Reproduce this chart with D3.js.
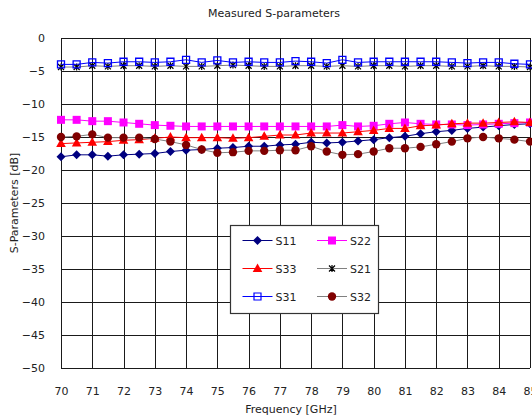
<!DOCTYPE html>
<html>
<head>
<meta charset="utf-8">
<script src="https://cdn.jsdelivr.net/npm/d3@7"></script>
<style>
  body { margin: 0; background: #fff; }
  svg text { font-family: "DejaVu Sans", sans-serif; fill: #222; }
</style>
</head>
<body>
<svg id="chart" width="532" height="418"></svg>
<script>
// Frequency points, 70 to 85 GHz in 0.5 GHz steps
const freqs = [70, 70.5, 71, 71.5, 72, 72.5, 73, 73.5, 74, 74.5, 75, 75.5, 76, 76.5, 77, 77.5,
  78, 78.5, 79, 79.5, 80, 80.5, 81, 81.5, 82, 82.5, 83, 83.5, 84, 84.5, 85];

const s11 = [-18.0, -17.7, -17.7, -17.9, -17.7, -17.6, -17.5, -17.2, -17.0, -16.9, -16.7, -16.6, -16.4, -16.4, -16.2, -16.1,
  -15.8, -15.9, -15.8, -15.6, -15.4, -15.1, -14.9, -14.5, -14.2, -14.0, -13.7, -13.5, -13.3, -13.1, -13.0];
const s22 = [-12.4, -12.4, -12.6, -12.6, -12.8, -13.0, -13.2, -13.3, -13.4, -13.4, -13.4, -13.4, -13.4, -13.4, -13.4, -13.4,
  -13.4, -13.4, -13.2, -13.4, -13.3, -13.0, -12.8, -13.0, -13.1, -13.1, -13.2, -13.1, -13.0, -12.9, -12.8];
const s33 = [-16.0, -15.9, -15.8, -15.7, -15.5, -15.4, -15.2, -15.0, -15.1, -15.1, -15.1, -15.2, -15.1, -14.9, -14.7, -14.7,
  -14.4, -14.4, -14.4, -14.2, -14.0, -13.7, -13.7, -13.3, -13.2, -13.0, -12.9, -12.9, -12.8, -12.7, -12.8];
const s21 = [-4.4, -4.4, -4.2, -4.3, -4.2, -4.2, -4.3, -4.2, -4.3, -4.3, -4.2, -4.1, -4.2, -4.3, -4.3, -4.2,
  -4.2, -4.3, -4.2, -4.3, -4.2, -4.2, -4.3, -4.2, -4.2, -4.3, -4.3, -4.2, -4.3, -4.3, -4.4];
const s31 = [-4.0, -4.0, -3.7, -3.8, -3.6, -3.6, -3.7, -3.6, -3.3, -3.7, -3.4, -3.7, -3.6, -3.7, -3.7, -3.5,
  -3.6, -3.8, -3.3, -3.7, -3.6, -3.6, -3.6, -3.6, -3.6, -3.7, -3.8, -3.7, -3.7, -3.9, -4.0];
const s32 = [-15.0, -14.9, -14.6, -15.1, -15.1, -15.1, -15.3, -15.7, -16.2, -16.9, -17.4, -17.3, -17.1, -17.1, -17.0, -17.0,
  -16.4, -17.2, -17.7, -17.6, -17.2, -16.7, -16.7, -16.5, -16.1, -15.7, -15.2, -15.0, -15.2, -15.4, -15.7];

const xTicks = d3.range(70, 86, 1);
const yTicks = d3.range(-50, 1, 5);

const series = [
  { name: 'S11', values: s11, line: '#000080', marker: 'diamond', fill: '#000080', stroke: 'none' },
  { name: 'S22', values: s22, line: '#ff00ff', marker: 'square', fill: '#ff00ff', stroke: 'none' },
  { name: 'S33', values: s33, line: '#ff0000', marker: 'triangle', fill: '#ff0000', stroke: 'none' },
  { name: 'S21', values: s21, line: '#808080', marker: 'star', fill: 'none', stroke: '#000' },
  { name: 'S31', values: s31, line: '#0000ff', marker: 'open', fill: 'none', stroke: '#0000ff' },
  { name: 'S32', values: s32, line: '#808080', marker: 'circle', fill: '#800000', stroke: 'none' }
];

const svg = d3.select('#chart');
const margin = { left: 61, right: 532 - 530, top: 38, bottom: 418 - 368 };
const width = 532 - margin.left - margin.right;
const height = 418 - margin.top - margin.bottom;

const x = d3.scaleLinear().domain([70, 85]).range([margin.left, margin.left + width]);
const y = d3.scaleLinear().domain([-50, 0]).range([margin.top + height, margin.top]);

// Grid
const grid = svg.append('g');
grid.selectAll('line.v')
  .data(xTicks)
  .join('line')
  .attr('x1', d => Math.round(x(d)) + 0.5)
  .attr('x2', d => Math.round(x(d)) + 0.5)
  .attr('y1', y(0))
  .attr('y2', y(-50))
  .attr('stroke', '#1a1a1a')
  .attr('stroke-width', 1);
grid.selectAll('line.h')
  .data(yTicks)
  .join('line')
  .attr('x1', x(70))
  .attr('x2', x(85))
  .attr('y1', d => Math.round(y(d)) + 0.5)
  .attr('y2', d => Math.round(y(d)) + 0.5)
  .attr('stroke', '#1a1a1a')
  .attr('stroke-width', 1);

// Axes (labels only)
const xAxis = svg.append('g')
  .attr('transform', `translate(0,${y(-50) + 16})`)
  .call(d3.axisBottom(x).tickValues(xTicks).tickSize(0).tickFormat(d3.format('d')));
const yAxis = svg.append('g')
  .attr('transform', `translate(${x(70) - 13},0)`)
  .call(d3.axisLeft(y).tickValues(yTicks).tickSize(0).tickFormat(d3.format('d')));
[xAxis, yAxis].forEach(a => {
  a.select('.domain').remove();
  a.selectAll('text').attr('font-size', 11).attr('fill', '#222')
    .style('font-family', '"DejaVu Sans", sans-serif');
});

// Titles
svg.append('text')
  .attr('x', 274).attr('y', 17)
  .attr('text-anchor', 'middle')
  .attr('font-size', 11)
  .text('Measured S-parameters');
svg.append('text')
  .attr('x', 291).attr('y', 413)
  .attr('text-anchor', 'middle')
  .attr('font-size', 11)
  .text('Frequency [GHz]');
svg.append('text')
  .attr('transform', 'translate(18,203) rotate(-90)')
  .attr('text-anchor', 'middle')
  .attr('font-size', 11)
  .text('S-Parameters [dB]');

function markerPath(type) {
  switch (type) {
    case 'diamond': return 'M0,-4.5L4.5,0L0,4.5L-4.5,0Z';
    case 'square': return 'M-4,-4H4V4H-4Z';
    case 'triangle': return 'M0,-5L4.8,3.5H-4.8Z';
    case 'open': return 'M-3.5,-3.5H3.5V3.5H-3.5Z';
    case 'circle': return d3.symbol(d3.symbolCircle, 55)();
    case 'star': return 'M-3,-3L3,3M-3,3L3,-3M0,-3.5V3.5';
  }
}

const line = d3.line().x(d => x(d[0])).y(d => y(d[1]));

const plot = svg.append('g');
series.forEach(s => {
  const pts = freqs.map((f, i) => [f, s.values[i]]);
  const g = plot.append('g');
  g.append('path')
    .datum(pts)
    .attr('d', line)
    .attr('fill', 'none')
    .attr('stroke', s.line)
    .attr('stroke-width', 1);
  g.selectAll('path.m')
    .data(pts)
    .join('path')
    .attr('class', 'm')
    .attr('transform', d => `translate(${x(d[0])},${y(d[1])})`)
    .attr('d', markerPath(s.marker))
    .attr('fill', s.fill)
    .attr('stroke', s.stroke)
    .attr('stroke-width', s.marker === 'star' ? 1.2 : 1.3);
});

// Legend
const lg = svg.append('g').attr('transform', 'translate(230,225)');
lg.append('rect')
  .attr('x', 0.5).attr('y', 0.5)
  .attr('width', 148).attr('height', 88)
  .attr('fill', '#fff')
  .attr('stroke', '#333')
  .attr('stroke-width', 1.2);
series.forEach((s, i) => {
  const col = i % 2, row = Math.floor(i / 2);
  const cx = col === 0 ? 27.5 : 102;
  const cy = 15.5 + row * 28;
  const item = lg.append('g').attr('transform', `translate(${cx},${cy})`);
  item.append('line')
    .attr('x1', -15).attr('x2', 15)
    .attr('stroke', s.line).attr('stroke-width', 1);
  item.append('path')
    .attr('d', markerPath(s.marker))
    .attr('fill', s.fill)
    .attr('stroke', s.stroke)
    .attr('stroke-width', 1.2);
  item.append('text')
    .attr('x', 18).attr('y', 4)
    .attr('font-size', 11)
    .text(s.name);
});
</script>
</body>
</html>
